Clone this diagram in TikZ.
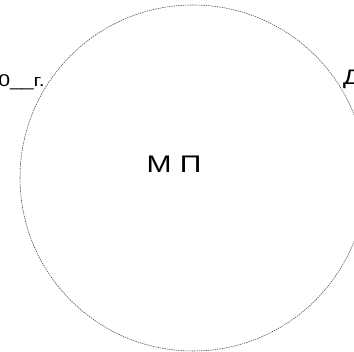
\documentclass[tikz,border=0pt]{standalone}
\usepackage{xcolor}
\usepackage{fontspec}
\usepackage{tikz}
\setmainfont{Liberation Sans}
\newfontfamily\widefont[FakeStretch=1.25]{Liberation Sans}
\definecolor{rim}{HTML}{4A4A4A}

\begin{document}
\begin{tikzpicture}[
        x=1pt, y=1pt,
        seal/.style={
            draw=rim,
            circle,
            line width=0.55pt,
            dash pattern=on 1.4pt off 0.9pt,
            minimum size=346pt,
            inner sep=0pt
        },
        caption/.style={
            inner sep=0pt,
            font=\widefont\fontsize{17}{20}\selectfont
        },
        stamp/.style={
            inner sep=0pt,
            font=\widefont\fontsize{24}{28}\selectfont
        }
    ]

    \useasboundingbox (0,0) rectangle (354,352);
    \clip (0,0) rectangle (354,352);

    % the stamp place
    \node[seal] (ring) at (193,174) {};
    \node[stamp, anchor=base] (mp) at (174,179) {М П};

    % date and signature lines cut at the edges
    \node[caption, anchor=base east] (date) at (45,265) {0\_\_г.};
    \node[caption, font=\widefont\fontsize{21}{24}\selectfont,
          anchor=base west] (sign) at (343,267) {Д};

    \end{tikzpicture}
\end{document}
